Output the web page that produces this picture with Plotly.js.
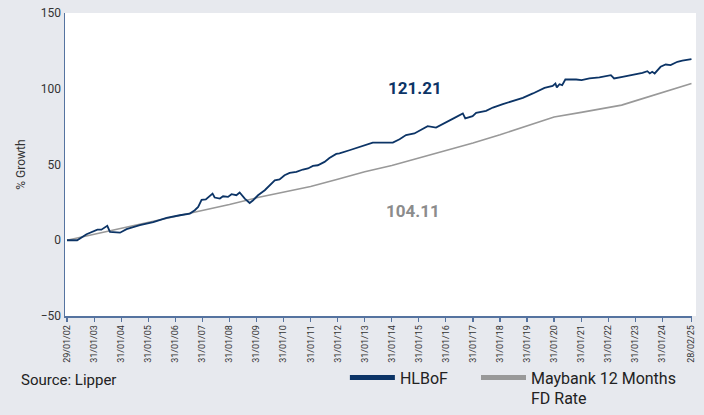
<!DOCTYPE html>
<html>
<head>
<meta charset="utf-8">
<script src="https://cdn.plot.ly/plotly-3.0.1.min.js"></script>
<style>
html,body{margin:0;padding:0;background:#e7e9ee;}
#chart{width:704px;height:415px;}
</style>
</head>
<body>
<div id="chart"></div>
<script>
const fundDates = ["2002-01-29","2002-06-15","2002-10-20","2003-03-15","2003-05-08","2003-07-27","2003-09-01","2004-01-15","2004-04-12","2004-10-08","2005-04-08","2005-10-04","2006-04-01","2006-08-15","2006-10-20","2006-12-05","2007-01-20","2007-03-18","2007-06-17","2007-07-16","2007-09-24","2007-11-06","2008-01-12","2008-02-28","2008-05-04","2008-06-17","2008-08-25","2008-10-30","2008-12-16","2009-02-20","2009-05-22","2009-07-27","2009-10-04","2009-12-08","2010-02-13","2010-04-23","2010-07-23","2010-10-19","2010-12-27","2011-03-03","2011-05-08","2011-08-07","2011-10-12","2012-01-12","2012-02-25","2012-07-08","2013-01-05","2013-05-19","2013-08-18","2014-02-14","2014-05-16","2014-08-11","2014-12-02","2015-03-04","2015-05-30","2015-09-20","2016-01-12","2016-05-27","2016-09-16","2016-10-19","2017-01-26","2017-03-15","2017-07-27","2017-10-27","2018-03-10","2018-07-23","2018-12-05","2019-04-20","2019-09-24","2020-01-12","2020-02-18","2020-03-08","2020-04-13","2020-05-19","2020-07-01","2020-11-24","2021-02-06","2021-05-22","2021-10-04","2022-03-08","2022-04-20","2022-08-11","2022-12-24","2023-05-08","2023-07-13","2023-08-15","2023-09-17","2023-10-20","2024-01-08","2024-03-17","2024-05-22","2024-08-22","2024-10-27","2025-02-28"];
const fundValues = [0,0,4,7,7,9.5,5.5,5,7.3,10,12,14.7,16.5,17.6,19.8,22,26.6,26.9,30.8,28.2,27.5,29,28.6,30.4,29.7,31.5,27.5,24.6,26.4,29.7,33,36.3,39.6,40.1,42.9,44.5,45.1,46.7,47.4,49.1,49.5,51.7,54.3,57,57.3,59.4,62.1,64.5,64.5,64.5,66.7,69.4,70.5,72.7,75.3,74.4,77.1,80.8,83.7,80.4,81.9,84.1,85.4,87.6,89.8,91.8,94,96.9,100.6,101.9,103.5,100.9,103,102.4,106.1,106.1,105.7,106.8,107.5,109,106.8,107.9,109,110.5,111.6,110.1,111.2,110.1,114.5,116,115.6,117.8,118.5,119.6];

const fdDates = ["2002-01-29","2003-01-31","2004-01-31","2005-01-31","2006-01-31","2007-01-31","2008-01-31","2009-01-31","2010-01-31","2011-01-31","2012-01-31","2013-01-31","2014-01-31","2015-01-31","2016-01-31","2017-01-31","2018-01-31","2019-01-31","2020-01-31","2021-01-31","2022-01-31","2022-07-31","2023-01-31","2024-01-31","2025-02-28"];
const fdValues = [0,3.9,7.8,11.6,15.4,19.4,23.6,28,31.5,35.5,40.2,45.2,49.3,54.2,59.2,64.2,69.6,75.3,81.4,84.4,87.4,89.2,92,97.5,103.5];

const tickDates = ["2002-01-29","2003-01-31","2004-01-31","2005-01-31","2006-01-31","2007-01-31","2008-01-31","2009-01-31","2010-01-31","2011-01-31","2012-01-31","2013-01-31","2014-01-31","2015-01-31","2016-01-31","2017-01-31","2018-01-31","2019-01-31","2020-01-31","2021-01-31","2022-01-31","2023-01-31","2024-01-31","2025-02-28"];
const tickLabels = ["29/01/02","31/01/03","31/01/04","31/01/05","31/01/06","31/01/07","31/01/08","31/01/09","31/01/10","31/01/11","31/01/12","31/01/13","31/01/14","31/01/15","31/01/16","31/01/17","31/01/18","31/01/19","31/01/20","31/01/21","31/01/22","31/01/23","31/01/24","28/02/25"];

const seriesNames = ["HLBoF","Maybank 12 Months<br>FD Rate"];
const endLabels = ["121.21","104.11"];

const NAVY = "#0c3466";
const GREY = "#999999";
const AXIS = "#5573a0";
const FONT = "Roboto, 'Open Sans', sans-serif";

const traces = [
  {x: fdDates, y: fdValues, type: "scatter", mode: "lines", line: {color: GREY, width: 1.6}, showlegend: false, hoverinfo: "skip"},
  {x: fundDates, y: fundValues, type: "scatter", mode: "lines", line: {color: NAVY, width: 1.8}, showlegend: false, hoverinfo: "skip"},
  {x: [null], y: [null], type: "scatter", mode: "lines", name: seriesNames[0], line: {color: NAVY, width: 5}, legend: "legend"},
  {x: [null], y: [null], type: "scatter", mode: "lines", name: seriesNames[1], line: {color: GREY, width: 5}, legend: "legend2"}
];

const legendBase = {
  orientation: "h", xanchor: "left", y: -0.147, yanchor: "top",
  font: {family: FONT, size: 16, color: "#222222"},
  bgcolor: "rgba(0,0,0,0)", valign: "top", itemwidth: 45
};

const layout = {
  width: 704, height: 415,
  margin: {l: 65, r: 12, t: 13, b: 99, autoexpand: false},
  paper_bgcolor: "#e7e9ee",
  plot_bgcolor: "#ffffff",
  font: {family: FONT, color: "#333333", size: 12},
  showlegend: true,
  legend: Object.assign({}, legendBase, {x: 0.4464}),
  legend2: Object.assign({}, legendBase, {x: 0.6555}),
  xaxis: {
    type: "date", range: ["2002-01-02", "2025-03-07"],
    tickmode: "array", tickvals: tickDates, ticktext: tickLabels,
    tickangle: -90, tickfont: {family: FONT, size: 9, color: "#333333"},
    ticks: "outside", ticklen: 4, tickcolor: AXIS, tickwidth: 1.2,
    showline: true, linecolor: AXIS, linewidth: 1.5,
    showgrid: false, zeroline: false, fixedrange: true, automargin: false
  },
  yaxis: {
    range: [-50, 150], tickmode: "array", tickvals: [-50, 0, 50, 100, 150],
    tickfont: {family: FONT, size: 12, color: "#333333"},
    ticks: "", showline: true, linecolor: AXIS, linewidth: 1.5,
    showgrid: false, zeroline: false, automargin: false,
    title: {text: "% Growth", font: {family: FONT, size: 12, color: "#333333"}, standoff: 12},
    fixedrange: true
  },
  shapes: [
    {type: "rect", xref: "paper", yref: "paper", x0: 1, x1: 1.0064, y0: 0, y1: 1, fillcolor: "#ffffff", line: {width: 0}, layer: "below"}
  ],
  annotations: [
    {xref: "paper", yref: "y", x: 0.558, y: 100.4, text: "<b>" + endLabels[0] + "</b>", showarrow: false, font: {family: FONT, size: 17, color: NAVY}},
    {xref: "paper", yref: "y", x: 0.555, y: 19.2, text: "<b>" + endLabels[1] + "</b>", showarrow: false, font: {family: FONT, size: 17, color: "#8c8c8c"}},
    {xref: "paper", yref: "paper", x: -0.0734, xanchor: "left", y: -0.211, yanchor: "middle", text: "Source: Lipper", showarrow: false, font: {family: FONT, size: 15, color: "#222222"}}
  ]
};

Plotly.newPlot("chart", traces, layout, {displayModeBar: false, staticPlot: true});
</script>
</body>
</html>
